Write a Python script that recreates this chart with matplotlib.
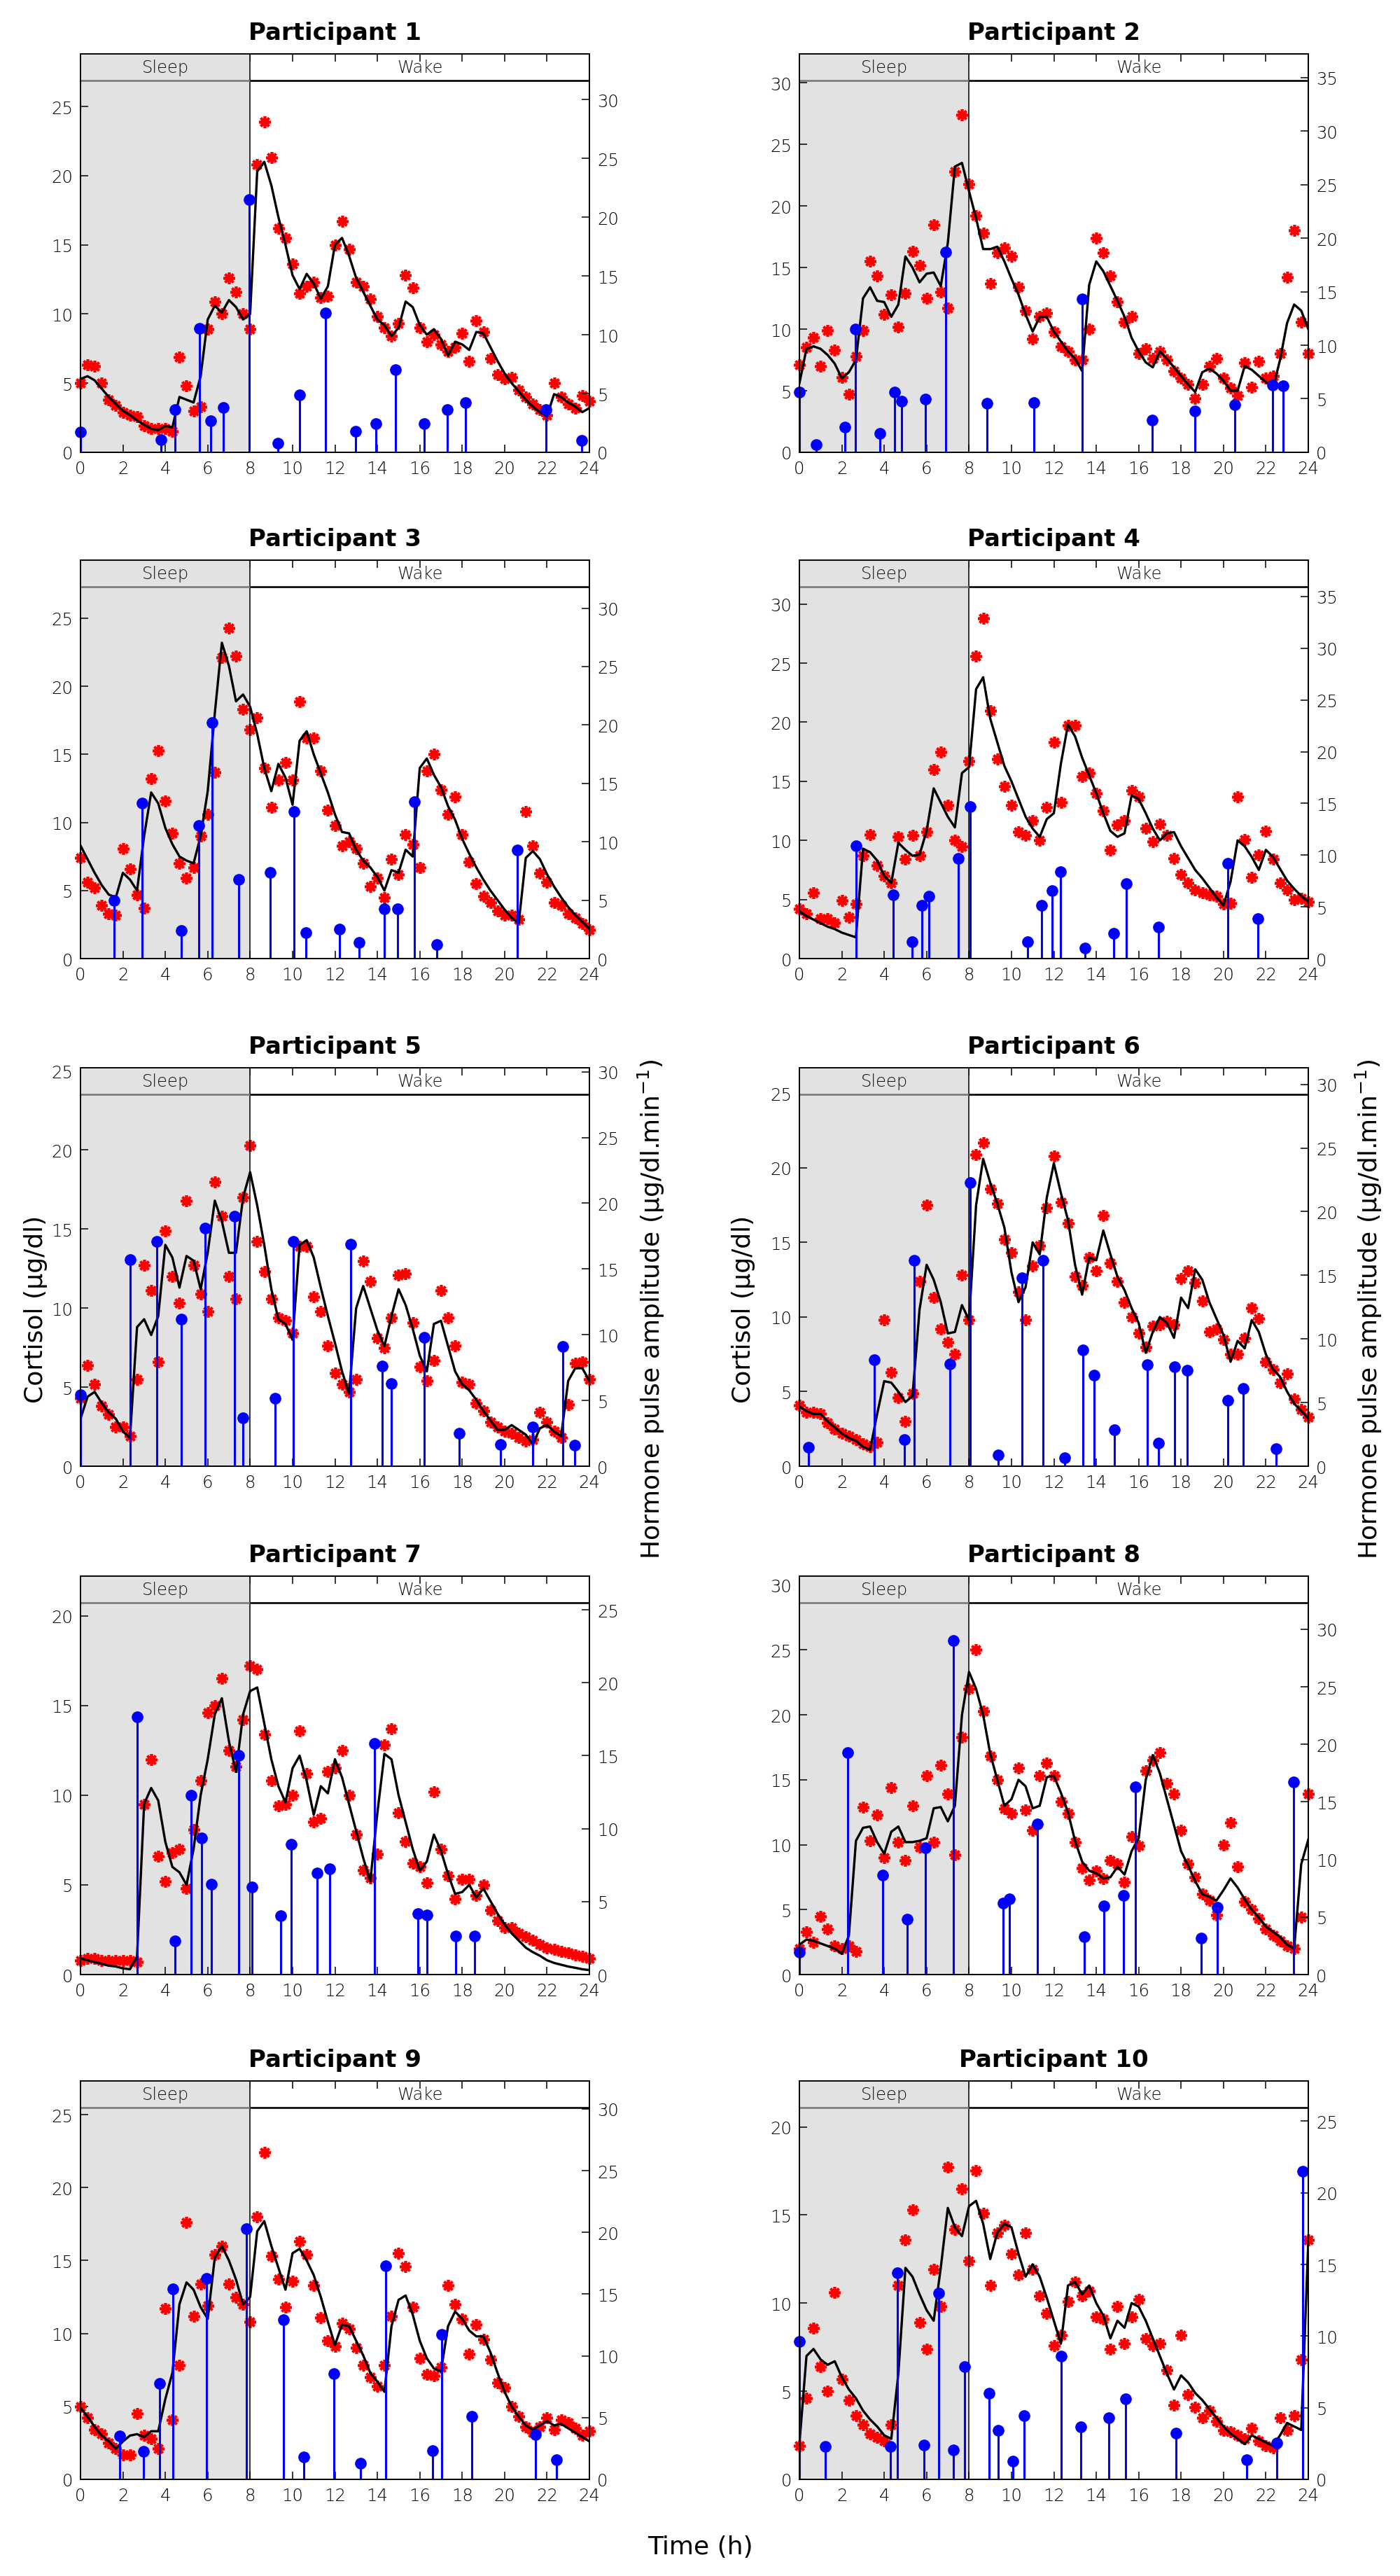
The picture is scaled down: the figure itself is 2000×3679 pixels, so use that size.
import numpy as np
import matplotlib
matplotlib.use("Agg")
import matplotlib.pyplot as plt
from matplotlib.ticker import MultipleLocator
from matplotlib.patches import Rectangle

plt.rcParams['font.family'] = ['DejaVu Sans']
plt.rcParams['mathtext.default'] = 'regular'

# 20-minute sampling grid (hours)
time_h = np.linspace(0, 24, 73)

# ---------------- Participant 1 ----------------
p1_model = [5.3, 5.5, 5.2, 4.6, 4.0, 3.5, 3.0, 2.7, 2.3, 2.0, 1.7, 1.6,
            1.9, 1.8, 4.0, 3.8, 3.6, 5.5, 9.6, 10.6, 10.1, 11.0, 10.5, 9.6,
            10.0, 20.3, 21.0, 19.3, 17.0, 15.0, 12.8, 11.8, 12.9, 12.2, 11.1, 12.0,
            15.0, 15.5, 14.2, 12.6, 11.6, 10.6, 9.6, 9.2, 8.4, 9.0, 10.9, 10.5,
            9.2, 8.5, 8.9, 8.2, 7.0, 8.0, 7.8, 7.4, 8.7, 8.6, 7.6, 6.6,
            5.7, 5.0, 4.4, 3.8, 3.3, 2.9, 2.6, 4.2, 4.0, 3.6, 3.3, 2.9, 3.2]
p1_cortisol = [5.0, 6.3, 6.2, 5.0, 3.8, 3.4, 2.9, 2.7, 2.6, 1.9, 1.7, 1.7,
               1.7, 1.5, 6.9, 4.8, 3.0, 3.3, 8.9, 10.9, 10.0, 12.6, 11.6, 10.0,
               8.9, 20.8, 23.9, 21.3, 16.2, 15.5, 13.6, 11.5, 12.0, 12.3, 11.2, 11.3,
               15.0, 16.7, 14.7, 12.3, 12.0, 11.1, 9.8, 9.0, 8.4, 9.3, 12.8, 11.9,
               9.0, 8.0, 8.5, 7.8, 7.3, 7.6, 8.6, 6.6, 9.5, 8.7, 6.8, 5.6,
               5.3, 5.4, 4.5, 4.0, 3.5, 3.1, 2.7, 5.0, 4.0, 3.5, 3.2, 4.1, 3.7]
p1_pulse_time = [0.0, 3.81, 4.45, 5.61, 6.14, 6.74, 7.97, 9.32, 10.34, 11.57,
                 12.99, 13.94, 14.87, 16.21, 17.31, 18.16, 21.95, 23.64]
p1_pulse_amp = [1.74, 1.07, 3.66, 10.56, 2.67, 3.80, 21.5, 0.8, 4.9, 11.85,
                1.79, 2.41, 7.03, 2.41, 3.61, 4.2, 3.61, 0.99]

# ---------------- Participant 2 ----------------
p2_model = [5.6, 8.4, 8.6, 8.4, 7.9, 7.2, 6.0, 6.5, 7.5, 12.5, 13.4, 12.3,
            12.2, 11.0, 12.0, 15.9, 15.0, 13.8, 14.5, 14.6, 13.5, 17.0, 23.2, 23.5,
            21.2, 19.0, 16.5, 16.5, 16.7, 15.5, 14.1, 12.8, 11.2, 9.8, 11.0, 11.0,
            9.8, 9.0, 8.2, 7.6, 6.6, 13.6, 15.5, 14.7, 13.5, 12.3, 11.0, 9.3,
            8.2, 7.3, 6.9, 8.2, 7.6, 6.9, 6.2, 5.5, 4.9, 6.5, 6.8, 6.4,
            5.8, 5.0, 5.0, 7.0, 6.7, 6.2, 5.7, 5.2, 7.5, 10.5, 12.0, 11.5, 10.0]
p2_cortisol = [7.1, 8.5, 9.3, 7.0, 9.9, 8.3, 6.1, 4.7, 7.8, 9.9, 15.5, 14.3,
               11.2, 12.8, 10.2, 12.9, 16.3, 15.2, 12.5, 18.5, 13.0, 11.7, 22.8, 27.4,
               21.8, 19.2, 17.8, 13.7, 16.2, 16.6, 15.9, 13.4, 11.5, 9.2, 11.0, 11.3,
               9.8, 8.6, 8.2, 7.5, 7.5, 10.0, 17.4, 16.2, 14.3, 12.2, 10.6, 11.0,
               8.0, 8.4, 7.6, 8.2, 7.5, 6.6, 6.0, 5.5, 4.4, 5.5, 7.0, 7.6,
               6.0, 5.2, 4.6, 7.3, 5.3, 7.4, 6.0, 6.2, 8.0, 14.2, 18.0, 10.6, 8.0]
p2_pulse_time = [0.0, 0.8, 2.16, 2.65, 3.81, 4.49, 4.81, 5.93, 6.89, 8.86,
                 11.06, 13.35, 16.63, 18.64, 20.55, 22.31, 22.82]
p2_pulse_amp = [5.65, 0.74, 2.35, 11.5, 1.76, 5.65, 4.76, 4.94, 18.7, 4.56,
                4.65, 14.3, 3.0, 3.88, 4.41, 6.3, 6.2]

# ---------------- Participant 3 ----------------
p3_model = [8.3, 7.3, 6.3, 5.4, 4.7, 4.5, 6.3, 5.8, 5.0, 9.0, 12.2, 11.4,
            9.6, 8.4, 7.5, 7.2, 7.0, 9.0, 12.3, 18.0, 23.2, 21.5, 18.9, 19.4,
            18.5, 16.5, 14.0, 12.3, 14.3, 13.3, 11.3, 16.0, 16.7, 15.0, 13.6, 12.2,
            10.6, 9.3, 9.2, 8.0, 7.2, 6.7, 6.0, 5.0, 6.5, 6.3, 8.0, 7.5,
            14.0, 14.7, 13.5, 12.6, 11.2, 10.2, 8.8, 7.7, 6.7, 5.8, 5.0, 4.3,
            3.6, 3.0, 2.6, 7.4, 7.9, 7.3, 6.2, 5.3, 4.5, 3.8, 3.2, 2.7, 2.2]
p3_cortisol = [7.4, 5.6, 5.2, 3.9, 3.3, 3.2, 8.1, 6.6, 4.7, 3.7, 13.2, 15.3,
               11.6, 9.2, 7.0, 5.9, 6.7, 9.0, 10.6, 13.7, 22.1, 24.3, 22.2, 18.3,
               16.8, 17.7, 14.0, 11.1, 13.1, 14.4, 13.1, 18.9, 16.2, 16.2, 13.8, 10.9,
               9.8, 8.3, 8.6, 8.1, 7.0, 5.3, 5.9, 4.5, 7.3, 6.2, 9.1, 8.4,
               6.7, 13.8, 15.0, 12.4, 10.6, 11.9, 9.1, 7.1, 5.5, 4.6, 4.1, 3.5,
               3.2, 3.2, 2.9, 10.8, 8.3, 6.3, 5.6, 4.1, 3.9, 3.3, 3.0, 2.6, 2.1]
p3_pulse_time = [1.59, 2.92, 4.77, 5.57, 6.21, 7.46, 8.96, 10.06, 10.64, 12.22,
                 13.14, 14.32, 14.94, 15.74, 16.8, 20.59]
p3_pulse_amp = [4.97, 13.3, 2.42, 11.4, 20.2, 6.8, 7.39, 12.6, 2.2, 2.5,
                1.4, 4.24, 4.24, 13.4, 1.2, 9.27]

# ---------------- Participant 4 ----------------
p4_model = [4.0, 3.6, 3.3, 3.0, 2.7, 2.5, 2.2, 2.0, 1.8, 9.3, 9.0, 8.3,
            7.0, 6.4, 9.8, 9.2, 8.7, 8.8, 10.8, 14.4, 13.2, 12.0, 11.1, 15.7,
            16.2, 22.8, 23.8, 20.3, 18.3, 16.3, 15.0, 13.5, 12.0, 11.0, 10.3, 11.8,
            12.3, 16.5, 19.8, 18.8, 17.0, 15.5, 14.0, 12.3, 10.8, 10.3, 10.6, 13.8,
            13.5, 12.3, 11.0, 10.0, 10.6, 10.7, 9.5, 8.5, 7.5, 6.8, 6.0, 5.2,
            4.5, 6.5, 10.0, 9.5, 8.6, 7.5, 9.2, 8.6, 7.6, 6.6, 5.9, 5.3, 4.8]
p4_cortisol = [4.2, 3.8, 5.6, 3.4, 3.4, 3.0, 4.9, 3.5, 4.6, 8.7, 10.5, 7.9,
               7.0, 6.4, 10.3, 8.4, 10.4, 8.7, 10.7, 16.0, 17.5, 13.0, 10.0, 9.5,
               16.7, 25.6, 28.8, 21.0, 16.9, 14.6, 13.0, 10.7, 10.4, 11.7, 10.0, 12.8,
               18.3, 13.2, 19.7, 19.7, 15.4, 15.7, 14.0, 12.5, 9.2, 11.3, 11.7, 14.2,
               13.7, 11.0, 9.9, 11.4, 10.4, 8.5, 7.1, 6.4, 5.8, 5.6, 5.4, 5.3,
               4.6, 4.7, 13.7, 10.1, 6.9, 8.8, 10.8, 8.4, 6.4, 5.8, 5.0, 5.1, 4.8]
p4_pulse_time = [2.67, 4.41, 5.3, 5.78, 6.12, 7.48, 8.07, 10.76, 11.42, 11.93,
                 12.33, 13.47, 14.81, 15.42, 16.93, 20.19, 21.63]
p4_pulse_amp = [10.9, 6.18, 1.63, 5.12, 6.02, 9.66, 14.7, 1.63, 5.12, 6.57,
                8.39, 1.03, 2.42, 7.24, 3.03, 9.23, 3.84]

# ---------------- Participant 5 ----------------
p5_model = [3.0, 4.4, 4.7, 4.0, 3.4, 3.0, 2.2, 1.8, 8.8, 9.3, 8.3, 9.5,
            14.0, 13.2, 11.3, 13.3, 13.0, 11.2, 13.5, 16.8, 15.5, 13.5, 13.5, 17.0,
            18.6, 16.5, 14.0, 11.2, 9.3, 9.0, 8.0, 14.0, 14.3, 13.2, 11.3, 9.5,
            7.8, 6.0, 4.6, 10.0, 11.4, 10.0, 8.6, 7.6, 9.5, 11.2, 10.2, 8.7,
            7.0, 6.0, 9.0, 9.2, 7.6, 6.0, 5.2, 4.8, 4.2, 3.5, 2.9, 2.3,
            2.3, 2.6, 2.3, 2.0, 1.4, 2.4, 2.6, 2.2, 1.9, 5.4, 6.2, 6.2, 5.4]
p5_cortisol = [4.3, 6.4, 5.2, 3.8, 3.3, 2.5, 2.5, 1.9, 5.5, 12.7, 11.1, 6.6,
               14.9, 12.0, 10.3, 16.8, 12.7, 10.9, 9.8, 18.0, 15.8, 12.0, 10.6, 17.0,
               20.3, 14.2, 12.3, 10.6, 9.4, 9.2, 8.4, 13.9, 13.9, 10.7, 9.8, 7.6,
               5.9, 5.2, 4.7, 5.5, 13.0, 11.7, 8.1, 7.5, 9.4, 12.1, 12.2, 9.1,
               6.3, 5.4, 6.7, 11.1, 9.4, 7.6, 5.3, 5.2, 4.0, 3.5, 2.8, 2.5,
               2.2, 2.1, 1.8, 1.6, 1.7, 3.4, 2.8, 2.2, 1.8, 3.9, 6.5, 6.6, 5.5]
p5_pulse_time = [0.0, 2.33, 3.59, 4.76, 5.86, 7.27, 7.65, 9.18, 10.04, 12.73,
                 14.23, 14.67, 16.22, 17.86, 19.81, 21.33, 22.73, 23.3]
p5_pulse_amp = [5.45, 15.7, 17.1, 11.2, 18.1, 19.0, 3.69, 5.16, 17.1, 16.9,
                7.62, 6.27, 9.78, 2.51, 1.67, 3.0, 9.09, 1.6]

# ---------------- Participant 6 ----------------
p6_model = [4.0, 3.7, 3.5, 3.5, 3.0, 2.6, 2.2, 1.9, 1.7, 1.3, 1.1, 3.5,
            5.7, 5.6, 5.0, 4.3, 4.7, 10.5, 13.5, 12.5, 11.0, 8.9, 9.0, 10.8,
            9.8, 17.5, 20.6, 19.0, 17.6, 16.0, 13.0, 11.0, 12.0, 15.0, 14.2, 18.0,
            20.3, 18.3, 16.5, 13.5, 11.5, 14.0, 13.8, 15.8, 14.2, 12.7, 11.8, 10.6,
            9.6, 7.6, 9.0, 10.0, 9.6, 8.6, 11.3, 10.6, 13.2, 12.5, 11.0, 9.9,
            8.8, 7.0, 8.4, 7.9, 9.8, 9.0, 7.5, 6.5, 6.0, 5.0, 4.2, 3.7, 3.2]
p6_cortisol = [4.1, 3.6, 3.6, 3.5, 2.9, 2.5, 2.2, 2.0, 1.8, 1.5, 1.3, 1.6,
               9.8, 6.3, 4.6, 3.0, 4.9, 12.4, 17.5, 11.3, 9.2, 8.3, 7.5, 12.8,
               9.8, 20.9, 21.7, 18.6, 17.6, 15.2, 14.3, 11.7, 9.8, 13.4, 14.8, 17.3,
               20.8, 17.7, 16.3, 12.7, 12.1, 14.0, 13.1, 16.8, 13.6, 12.4, 11.0, 10.0,
               8.9, 8.0, 9.4, 9.5, 9.7, 9.5, 12.6, 13.1, 12.3, 11.1, 9.0, 9.2,
               8.5, 7.5, 7.5, 8.6, 10.6, 9.9, 7.0, 6.5, 5.6, 6.2, 4.5, 3.8, 3.3]
p6_pulse_time = [0.44, 3.52, 4.94, 5.4, 7.1, 8.07, 9.39, 10.51, 11.5, 12.5,
                 13.37, 13.9, 14.85, 16.42, 16.95, 17.69, 18.28, 20.19, 20.93, 22.48]
p6_pulse_amp = [1.47, 8.35, 2.1, 16.2, 8.05, 22.3, 0.89, 14.8, 16.2, 0.68,
                9.16, 7.16, 2.84, 7.97, 1.82, 7.8, 7.54, 5.19, 6.13, 1.37]

# ---------------- Participant 7 ----------------
p7_model = [0.9, 0.8, 0.7, 0.6, 0.5, 0.45, 0.35, 0.3, 1.0, 9.5, 10.4, 9.7,
            7.4, 6.0, 5.7, 5.0, 7.0, 10.0, 12.0, 14.5, 15.4, 13.0, 11.3, 14.5,
            15.8, 16.0, 14.0, 12.0, 10.5, 9.6, 11.5, 12.2, 10.8, 8.9, 10.5, 10.1,
            12.0, 11.0, 9.5, 8.0, 6.5, 5.2, 9.0, 12.3, 12.0, 10.0, 8.5, 7.0,
            5.8, 6.3, 7.8, 6.9, 5.6, 4.5, 4.6, 5.0, 4.3, 4.8, 4.1, 3.4,
            2.8, 2.3, 1.9, 1.5, 1.25, 1.05, 0.8, 0.65, 0.55, 0.45, 0.38, 0.3, 0.25]
p7_cortisol = [0.8, 0.9, 0.9, 0.8, 0.8, 0.8, 0.8, 0.8, 0.7, 9.5, 12.0, 6.6,
               5.2, 6.8, 7.0, 4.8, 8.1, 10.8, 14.6, 15.0, 16.5, 12.5, 11.6, 14.2,
               17.2, 17.0, 13.4, 10.8, 9.4, 9.5, 10.0, 13.6, 11.2, 8.5, 8.7, 11.3,
               11.5, 12.5, 10.0, 7.8, 5.8, 5.4, 6.7, 12.8, 13.7, 9.0, 7.4, 6.2,
               6.0, 5.1, 10.2, 7.0, 5.5, 4.2, 5.3, 5.3, 4.4, 5.0, 3.6, 3.0,
               2.6, 2.6, 2.3, 2.1, 1.9, 1.7, 1.5, 1.4, 1.3, 1.2, 1.1, 1.0, 0.9]
p7_pulse_time = [2.66, 4.47, 5.21, 5.72, 6.18, 7.47, 8.1, 9.43, 9.94, 11.16,
                 11.75, 13.86, 15.9, 16.33, 17.7, 18.59]
p7_pulse_amp = [17.65, 2.32, 12.3, 9.34, 6.19, 15.0, 6.02, 4.03, 8.92, 6.97,
                7.23, 15.86, 4.16, 4.09, 2.65, 2.65]

# ---------------- Participant 8 ----------------
p8_model = [2.3, 2.7, 2.6, 2.4, 2.2, 2.0, 1.6, 3.0, 10.3, 11.3, 11.4, 10.2,
            9.3, 11.0, 11.4, 10.2, 10.2, 10.3, 10.5, 12.8, 12.9, 11.8, 13.0, 20.0,
            23.3, 22.0, 20.0, 17.0, 15.0, 13.0, 13.5, 15.0, 14.5, 12.8, 13.0, 15.2,
            15.3, 14.0, 12.5, 10.3, 8.7, 8.0, 7.8, 7.4, 7.5, 8.3, 7.7, 9.5,
            10.5, 15.0, 16.9, 15.5, 13.5, 11.5, 9.5, 8.4, 7.2, 6.2, 6.0, 5.7,
            6.5, 7.4, 6.7, 5.8, 5.0, 4.4, 3.7, 3.3, 2.9, 2.3, 2.0, 8.5, 10.4]
p8_cortisol = [2.0, 3.3, 2.5, 4.5, 3.5, 2.2, 2.0, 2.2, 1.8, 12.9, 10.3, 12.3,
               9.0, 14.4, 10.2, 8.8, 13.0, 9.8, 15.3, 10.2, 16.1, 13.9, 9.2, 18.3,
               22.0, 25.0, 20.3, 16.8, 15.0, 12.8, 12.4, 15.9, 12.7, 11.1, 15.3, 16.3,
               15.3, 13.3, 12.4, 10.2, 8.2, 7.3, 8.0, 7.4, 8.8, 8.5, 7.1, 10.6,
               9.9, 15.7, 16.5, 17.1, 14.7, 13.9, 11.1, 8.5, 7.5, 6.2, 5.7, 4.6,
               10.0, 11.7, 8.3, 5.6, 5.0, 4.3, 3.5, 3.0, 2.6, 2.2, 2.0, 4.4, 13.9]
p8_pulse_time = [0.0, 2.29, 3.94, 5.08, 5.93, 7.27, 9.6, 9.92, 11.23, 13.45,
                 14.36, 15.28, 15.85, 18.96, 19.72, 23.3]
p8_pulse_amp = [1.96, 19.3, 8.63, 4.82, 11.0, 29.0, 6.22, 6.59, 13.1, 3.28,
                5.94, 6.87, 16.3, 3.17, 5.83, 16.7]

# ---------------- Participant 9 ----------------
p9_model = [4.9, 4.3, 3.6, 3.0, 2.6, 2.1, 2.6, 3.0, 3.1, 2.9, 3.3, 3.3,
            5.5, 7.3, 12.0, 13.5, 13.0, 11.8, 11.0, 15.2, 16.0, 15.0, 13.7, 12.0,
            12.5, 17.0, 17.7, 16.0, 14.5, 13.0, 15.5, 15.8, 15.0, 14.0, 12.5, 10.8,
            9.2, 10.6, 10.5, 9.5, 8.5, 7.3, 6.7, 6.0, 10.5, 12.3, 12.6, 11.3,
            9.5, 8.3, 7.6, 7.4, 10.5, 11.5, 11.0, 10.2, 9.8, 9.8, 8.7, 7.3,
            6.0, 5.0, 4.3, 3.7, 3.4, 3.7, 4.0, 3.7, 3.8, 3.5, 3.2, 2.9, 2.6]
p9_cortisol = [5.0, 4.2, 3.4, 3.1, 2.5, 2.1, 1.7, 1.7, 4.5, 3.0, 2.8, 2.1,
               11.7, 4.1, 7.8, 17.6, 11.2, 13.4, 11.9, 15.4, 16.0, 13.4, 12.5, 12.0,
               10.8, 18.0, 22.4, 15.3, 13.7, 11.8, 13.6, 16.3, 15.4, 13.3, 11.1, 9.5,
               9.1, 10.7, 10.3, 9.0, 7.8, 7.0, 6.4, 7.8, 11.2, 15.5, 14.6, 11.8,
               8.3, 7.2, 7.1, 7.7, 13.3, 12.0, 11.0, 8.6, 10.6, 9.6, 8.2, 6.6,
               6.3, 5.0, 4.3, 3.6, 3.2, 3.6, 4.2, 3.4, 4.1, 3.9, 3.5, 3.0, 3.3]
p9_pulse_time = [1.86, 2.96, 3.72, 4.35, 5.94, 7.82, 9.57, 10.52, 11.96, 13.2,
                 14.39, 16.6, 17.03, 18.44, 21.47, 22.46]
p9_pulse_amp = [3.54, 2.27, 7.79, 15.4, 16.3, 20.3, 12.9, 1.84, 8.56, 1.33,
                17.3, 2.32, 11.76, 5.1, 3.63, 1.61]

# ---------------- Participant 10 ----------------
p10_model = [2.0, 7.0, 7.4, 6.8, 6.5, 6.7, 5.8, 5.1, 4.6, 3.9, 3.4, 3.0,
             2.5, 2.3, 6.0, 12.0, 11.5, 10.5, 9.6, 9.0, 12.0, 15.4, 14.3, 13.8,
             15.5, 15.8, 14.5, 12.5, 14.0, 14.5, 14.3, 12.8, 11.5, 12.2, 11.5, 10.3,
             9.0, 7.7, 11.0, 11.2, 10.5, 11.0, 10.0, 9.3, 8.0, 9.0, 8.6, 10.0,
             9.8, 9.0, 8.0, 7.0, 6.0, 5.1, 5.9, 5.5, 4.9, 4.5, 4.0, 3.5,
             3.0, 2.6, 2.3, 2.0, 2.5, 2.3, 2.1, 1.9, 2.5, 3.2, 3.0, 2.8, 13.5]
p10_cortisol = [1.9, 4.6, 8.6, 6.4, 5.0, 10.6, 5.7, 4.5, 3.6, 3.1, 2.6, 2.4,
                2.2, 3.1, 11.0, 13.6, 15.3, 8.9, 7.4, 11.9, 9.8, 17.7, 14.2, 16.5,
                12.4, 17.5, 15.1, 11.0, 14.0, 14.4, 12.8, 11.6, 14.0, 11.9, 10.4, 9.4,
                7.6, 8.2, 10.1, 11.2, 10.4, 10.7, 9.2, 9.1, 7.4, 9.8, 7.7, 9.2,
                10.2, 8.0, 7.6, 7.7, 6.2, 4.2, 8.2, 4.8, 4.1, 3.5, 3.9, 3.3,
                2.8, 2.7, 2.5, 2.3, 2.9, 2.2, 1.9, 1.8, 3.5, 2.8, 3.6, 6.8, 13.6]
p10_pulse_time = [0.0, 1.23, 4.3, 4.62, 5.89, 6.57, 7.27, 7.8, 8.96, 9.39,
                  10.06, 10.59, 12.35, 13.26, 14.58, 15.38, 17.75, 21.1, 22.52, 23.75]
p10_pulse_amp = [9.63, 2.32, 2.32, 14.4, 2.37, 13.0, 2.07, 7.88, 6.02, 3.41,
                 1.29, 4.46, 8.61, 3.66, 4.32, 5.61, 3.24, 1.39, 2.56, 21.5]

# axis upper limits (cortisol, pulse amplitude)
cortisol_top = [28.8, 32.35, 29.26, 33.7, 25.2, 26.7, 22.2, 30.67, 27.3, 22.6]
amplitude_top = [33.9, 37.2, 34.1, 38.5, 30.3, 31.3, 27.3, 34.6, 32.26, 27.8]

panel_titles = ["Participant %d" % k for k in range(1, 11)]
sleep_end = 8

panels = [
    (p1_model, p1_cortisol, p1_pulse_time, p1_pulse_amp),
    (p2_model, p2_cortisol, p2_pulse_time, p2_pulse_amp),
    (p3_model, p3_cortisol, p3_pulse_time, p3_pulse_amp),
    (p4_model, p4_cortisol, p4_pulse_time, p4_pulse_amp),
    (p5_model, p5_cortisol, p5_pulse_time, p5_pulse_amp),
    (p6_model, p6_cortisol, p6_pulse_time, p6_pulse_amp),
    (p7_model, p7_cortisol, p7_pulse_time, p7_pulse_amp),
    (p8_model, p8_cortisol, p8_pulse_time, p8_pulse_amp),
    (p9_model, p9_cortisol, p9_pulse_time, p9_pulse_amp),
    (p10_model, p10_cortisol, p10_pulse_time, p10_pulse_amp),
]

fig = plt.figure(figsize=(20, 36.8), dpi=100)

col_x = [0.0575, 0.571]
ax_w = 0.3635
row_bottom = [0.8242, 0.6277, 0.4307, 0.2334, 0.0375]
ax_h = 0.1546
bar_frac = 0.933
tick_color = '#000000'
gray = '#e2e2e2'

for i, (model, cort, ptime, pamp) in enumerate(panels):
    r, c = divmod(i, 2)
    ax = fig.add_axes([col_x[c], row_bottom[r], ax_w, ax_h])
    ax.set_xlim(0, 24)
    ax.set_ylim(0, cortisol_top[i])

    # sleep shading and sleep/wake bar
    ax.axvspan(0, sleep_end, color=gray, lw=0, zorder=0)
    ax.add_patch(Rectangle((0, bar_frac), sleep_end / 24, 1 - bar_frac,
                           transform=ax.transAxes, facecolor=gray, lw=0, zorder=2.6))
    ax.axvline(sleep_end, color='black', lw=1.1, zorder=6)
    ax.plot([0, sleep_end / 24], [bar_frac, bar_frac], transform=ax.transAxes,
            color='#7a7a7a', lw=1.9, zorder=6, solid_capstyle='butt')
    ax.plot([sleep_end / 24, 1], [bar_frac, bar_frac], transform=ax.transAxes,
            color='black', lw=1.9, zorder=6, solid_capstyle='butt')
    ymid = (1 + bar_frac) / 2
    ax.text(sleep_end / 48, ymid, 'Sleep', transform=ax.transAxes, ha='center',
            va='center', fontsize=17.5, color='#111111', fontweight='light', zorder=7)
    ax.text((24 + sleep_end) / 48, ymid, 'Wake', transform=ax.transAxes, ha='center',
            va='center', fontsize=17.5, color='#111111', fontweight='light', zorder=7)

    # data and model
    ax.plot(time_h, cort, ls='none', marker=(8, 2, 0), ms=12, mew=2.7,
            color='#ff0000', zorder=3, clip_on=False)
    ax.plot(time_h, model, color='black', lw=2.4, zorder=4)

    ax.xaxis.set_major_locator(MultipleLocator(2))
    ax.yaxis.set_major_locator(MultipleLocator(5))
    ax.tick_params(direction='in', length=8, width=1.1, top=True, right=True,
                   labelright=False, labelsize=17.5, colors=tick_color, pad=8)
    for lab in ax.get_xticklabels() + ax.get_yticklabels():
        lab.set_fontweight('light')
    for sp in ax.spines.values():
        sp.set_linewidth(1.3)
    ax.set_title(panel_titles[i], fontsize=24.5, fontweight='bold', pad=15)

    # pulses on right axis
    ax2 = ax.twinx()
    ax2.set_ylim(0, amplitude_top[i])
    ml, sl, bl = ax2.stem(ptime, pamp, linefmt='-', markerfmt='o', basefmt=' ')
    ml.set_color('#0000ff')
    ml.set_markersize(11)
    ml.set_clip_on(False)
    sl.set_color('#0000ff')
    sl.set_linewidth(2.2)
    ax2.yaxis.set_major_locator(MultipleLocator(5))
    ax2.tick_params(direction='in', length=8, width=1.1, labelsize=17.5,
                    colors=tick_color, pad=8)
    for lab in ax2.get_yticklabels():
        lab.set_fontweight('light')
    for sp in ax2.spines.values():
        sp.set_linewidth(1.3)

ylab_kw = dict(rotation=90, ha='center', va='center', fontsize=26)
fig.text(0.0255, 0.492, 'Cortisol (µg/dl)', **ylab_kw)
fig.text(0.531, 0.492, 'Cortisol (µg/dl)', **ylab_kw)
fig.text(0.465, 0.492, 'Hormone pulse amplitude (µg/dl.min$^{-1}$)', **ylab_kw)
fig.text(0.9775, 0.492, 'Hormone pulse amplitude (µg/dl.min$^{-1}$)', **ylab_kw)
fig.text(0.5, 0.0115, 'Time (h)', ha='center', va='center', fontsize=26)

fig.savefig('out.png', dpi=100)
